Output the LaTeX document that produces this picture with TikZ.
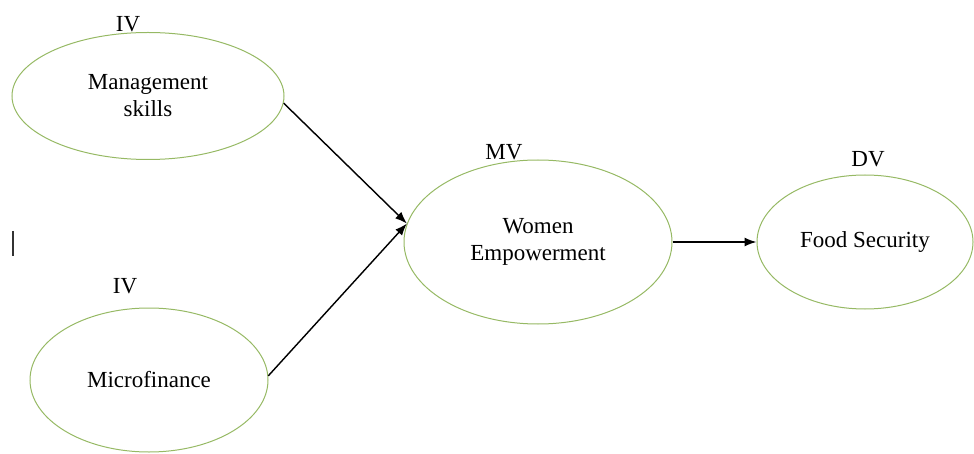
\documentclass[tikz,border=0pt]{standalone}
\usepackage{fontspec}
\setmainfont{Liberation Serif}
\usetikzlibrary{positioning,shapes.geometric,arrows.meta}

\begin{document}
\begin{tikzpicture}[
x=0.5pt, y=-0.5pt,
construct/.style={ellipse, draw=olivegreen, line width=0.5pt, align=center, inner sep=0pt, font=\fontsize{11.5}{13.5}\selectfont},
tag/.style={inner sep=0pt, font=\fontsize{11.5}{13.5}\selectfont},
arrow/.style={-{Latex[length=6pt,width=4.5pt]}, line width=0.25mm},
]
\definecolor{olivegreen}{RGB}{150,185,100}
\useasboundingbox (0,0) rectangle (974,454);

\node[construct, minimum width=136pt, minimum height=63.5pt] (ms) at (148,96) {Management\\skills};
\node[construct, minimum width=119pt, minimum height=72pt] (mf) at (149,380) {Microfinance};
\node[construct, minimum width=134pt, minimum height=82pt] (we) at (538,242) {Women\\Empowerment};
\node[construct, minimum width=108pt, minimum height=67pt] (fs) at (865,242) {Food Security};

\node[tag] (tms) [above=0pt of ms.north, xshift=-10pt] {IV};
\node[tag] (tmf) [above=6.5pt of mf.north, xshift=-12pt] {IV};
\node[tag] (twe) [above=-0.5pt of we.north, xshift=-17pt] {MV};
\node[tag] (tfs) [above=3.5pt of fs.north, xshift=1.5pt] {DV};

\draw[arrow] (ms.-3) -- (we.172);
\draw[arrow] (mf.2) -- (we.172);
\draw[arrow] (we.east) -- (fs.west);

% stray mark
\draw[line width=0.6pt, black!80] (13,231) -- (13,256);

\end{tikzpicture}
\end{document}
